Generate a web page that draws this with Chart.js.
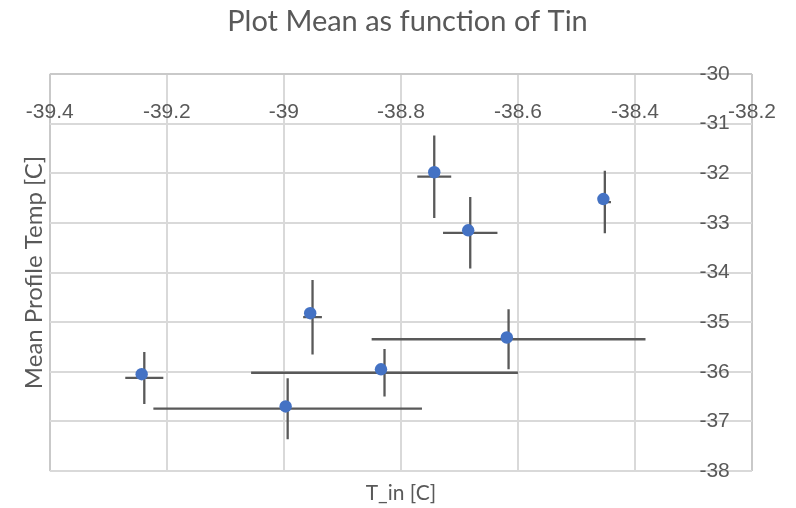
<!DOCTYPE html>
<html>
<head>
<meta charset="utf-8">
<script src="https://cdn.jsdelivr.net/npm/chart.js@4.4.1/dist/chart.umd.min.js"></script>
<style>
  html, body { margin: 0; padding: 0; background: #fff; }
  #wrap { width: 796px; height: 508px; }
</style>
</head>
<body>
<div id="wrap"><canvas id="scatter-mean-tin"></canvas></div>
<script>
// marker positions
var tIn = [-39.243, -38.997, -38.955, -38.834, -38.619, -38.743, -38.685, -38.454];
var meanTemp = [-36.05, -36.70, -34.82, -35.95, -35.31, -31.98, -33.15, -32.52];

// error bar ends
var tInLow = [-39.271, -39.223, -38.967, -39.056, -38.850, -38.772, -38.728, -38.462];
var tInHigh = [-39.206, -38.764, -38.935, -38.600, -38.382, -38.714, -38.635, -38.441];
var tempHigh = [-35.60, -36.13, -34.15, -35.54, -34.74, -31.24, -32.48, -31.95];
var tempLow = [-36.65, -37.36, -35.65, -36.50, -35.95, -32.90, -33.92, -33.21];

var xTicks = [-39.4, -39.2, -39.0, -38.8, -38.6, -38.4, -38.2];
var xTickLabels = ['-39.4', '-39.2', '-39', '-38.8', '-38.6', '-38.4', '-38.2'];
var yTicks = [-38, -37, -36, -35, -34, -33, -32, -31, -30];
var yTickLabels = ['-38', '-37', '-36', '-35', '-34', '-33', '-32', '-31', '-30'];

var textGrey = '#595959';
var tickFont = { family: 'Liberation Sans', size: 21 };

var points = tIn.map(function(v, i) {
  return { x: v, y: meanTemp[i] };
});

// error bars go under the markers
var errorBars = {
  id: 'errorBars',
  beforeDatasetsDraw: function(chart) {
    var xs = chart.scales.x, ys = chart.scales.y, ctx = chart.ctx;
    ctx.save();
    ctx.strokeStyle = '#595959';
    ctx.lineWidth = 2.3;
    tIn.forEach(function(v, i) {
      var cx = xs.getPixelForValue((tInLow[i] + tInHigh[i]) / 2);
      var cy = ys.getPixelForValue((tempLow[i] + tempHigh[i]) / 2);
      ctx.beginPath();
      ctx.moveTo(xs.getPixelForValue(tInLow[i]), cy);
      ctx.lineTo(xs.getPixelForValue(tInHigh[i]), cy);
      ctx.moveTo(cx, ys.getPixelForValue(tempHigh[i]));
      ctx.lineTo(cx, ys.getPixelForValue(tempLow[i]));
      ctx.stroke();
    });
    ctx.restore();
  }
};

function hiddenScale(position, title) {
  return {
    type: 'linear',
    position: position,
    ticks: { display: false },
    grid: { display: false, drawTicks: false },
    border: { display: false },
    title: title
  };
}

Chart.defaults.font.family = 'Lato';
Chart.defaults.color = textGrey;

var ctx = document.getElementById('scatter-mean-tin').getContext('2d');
var chart = new Chart(ctx, {
  type: 'scatter',
  data: {
    datasets: [{
      data: points,
      pointRadius: 6.2,
      pointHoverRadius: 6.2,
      pointBackgroundColor: '#4472c4',
      pointBorderWidth: 0
    }]
  },
  plugins: [errorBars],
  options: {
    responsive: true,
    maintainAspectRatio: false,
    animation: false,
    layout: { padding: { left: 19, right: 0, top: 0, bottom: 0 } },
    plugins: {
      legend: { display: false },
      tooltip: { enabled: false },
      title: {
        display: true,
        text: 'Plot Mean as function of Tin',
        color: textGrey,
        font: { family: 'Lato', size: 29, weight: 'normal' },
        padding: { top: 4.5, bottom: 34.7 }
      }
    },
    scales: {
      x: {
        type: 'linear',
        position: { y: -30.5 },
        min: -39.4,
        max: -38.2,
        afterBuildTicks: function(s) {
          s.ticks = xTicks.map(function(v) { return { value: v }; });
        },
        ticks: {
          callback: function(v, i) { return xTickLabels[i]; },
          padding: 1,
          autoSkip: false,
          maxRotation: 0,
          color: textGrey,
          font: tickFont
        },
        grid: {
          drawTicks: false,
          lineWidth: 2,
          color: function(c) {
            return (c.tick && (c.tick.value === -39.4 || c.tick.value === -38.2)) ? '#c9c9c9' : '#d9d9d9';
          }
        },
        border: { display: false }
      },
      y: {
        type: 'linear',
        position: { x: -38.238 },
        min: -38,
        max: -30,
        afterBuildTicks: function(s) {
          s.ticks = yTicks.map(function(v) { return { value: v }; });
        },
        ticks: {
          callback: function(v, i) { return yTickLabels[i]; },
          padding: 0,
          autoSkip: false,
          color: textGrey,
          font: tickFont
        },
        grid: {
          drawTicks: false,
          lineWidth: 2,
          color: function(c) {
            return (c.tick && c.tick.value === -30) ? '#c9c9c9' : '#d9d9d9';
          }
        },
        border: { display: false }
      },
      xTitle: hiddenScale('bottom', {
        display: true,
        text: 'T_in [C]',
        color: textGrey,
        font: { family: 'Lato', size: 21 },
        padding: { top: 9.4, bottom: 2.4 }
      }),
      yTitle: hiddenScale('left', {
        display: true,
        text: 'Mean Profile Temp [C]',
        color: textGrey,
        font: { family: 'Lato', size: 24 },
        padding: { top: 1, bottom: 1 }
      }),
      yPad: hiddenScale('right', {
        display: true,
        text: '',
        font: { size: 30 },
        padding: { top: 4, bottom: 4 }
      })
    }
  }
});
</script>
</body>
</html>
